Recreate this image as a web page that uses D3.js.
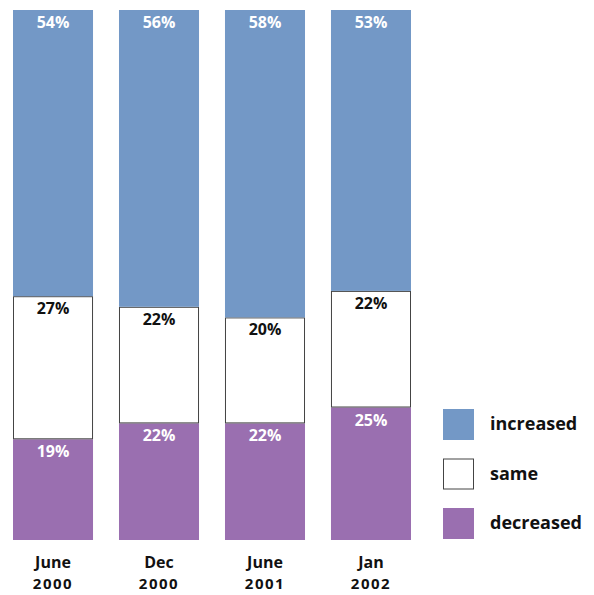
<!DOCTYPE html>
<html>
<head>
<meta charset="utf-8">
<script src="https://d3js.org/d3.v7.min.js"></script>
<style>
  body { margin: 0; background: #fff; }
  text { font-family: "Open Sans", "DejaVu Sans", sans-serif; font-weight: bold; }
</style>
</head>
<body>
<div id="chart"></div>
<script>
const periods = ['June 2000', 'Dec 2000', 'June 2001', 'Jan 2002'];
const decreased = [19, 22, 22, 25];
const same = [27, 22, 20, 22];
const increased = [54, 56, 58, 53];
const seriesNames = ['decreased', 'same', 'increased'];

const width = 594, height = 595;
const plotTop = 10, plotBottom = 540;

const colors = { increased: '#7398c6', same: '#ffffff', decreased: '#9a6fb0' };
const labelColors = { increased: '#ffffff', same: '#111111', decreased: '#ffffff' };

const rows = periods.map((p, i) => ({ period: p, decreased: decreased[i], same: same[i], increased: increased[i] }));
const stack = d3.stack().keys(seriesNames)(rows);

const svg = d3.select('#chart').append('svg')
  .attr('width', width).attr('height', height);

const x = d3.scaleBand().domain(periods).range([13, 411]).paddingInner(0.245).paddingOuter(0);
const y = d3.scaleLinear().domain([0, 100]).range([plotBottom, plotTop]);

const layers = svg.selectAll('g.layer').data(stack).join('g')
  .attr('class', 'layer');

layers.selectAll('rect').data(d => d.map(v => ({ key: d.key, v }))).join('rect')
  .attr('x', d => x(d.v.data.period) + (d.key === 'same' ? 0.5 : 0))
  .attr('y', d => y(d.v[1]) + (d.key === 'same' ? 0.5 : 0))
  .attr('width', d => x.bandwidth() - (d.key === 'same' ? 1 : 0))
  .attr('height', d => y(d.v[0]) - y(d.v[1]) - (d.key === 'same' ? 1 : 0))
  .attr('fill', d => colors[d.key])
  .attr('stroke', d => d.key === 'same' ? '#444' : 'none')
  .attr('stroke-width', 1);

layers.selectAll('text').data(d => d.map(v => ({ key: d.key, v }))).join('text')
  .attr('x', d => x(d.v.data.period) + x.bandwidth() / 2)
  .attr('y', d => y(d.v[1]) + 18)
  .attr('text-anchor', 'middle')
  .attr('font-size', '16px')
  .attr('fill', d => labelColors[d.key])
  .text(d => (d.v[1] - d.v[0]) + '%');

// category labels (two lines)
const xAxis = svg.append('g');
periods.forEach(p => {
  const parts = p.split(' ');
  const cx = x(p) + x.bandwidth() / 2;
  xAxis.append('text')
    .attr('x', cx).attr('y', 568)
    .attr('text-anchor', 'middle')
    .attr('font-size', '16px')
    .attr('fill', '#111')
    .text(parts[0]);
  xAxis.append('text')
    .attr('x', cx).attr('y', 589)
    .attr('text-anchor', 'middle')
    .attr('font-size', '15px')
    .attr('letter-spacing', '1.5px')
    .attr('fill', '#111')
    .text(parts[1]);
});

// legend
const legendNames = ['increased', 'same', 'decreased'];
const legend = svg.append('g').selectAll('g').data(legendNames).join('g')
  .attr('transform', (d, i) => `translate(443, ${409 + i * 49.5})`);
legend.append('rect')
  .attr('x', d => d === 'same' ? 0.5 : 0)
  .attr('y', d => d === 'same' ? 0.5 : 0)
  .attr('width', d => d === 'same' ? 30 : 31)
  .attr('height', d => d === 'same' ? 30 : 31)
  .attr('fill', d => colors[d])
  .attr('stroke', d => d === 'same' ? '#444' : 'none');
legend.append('text')
  .attr('x', 47)
  .attr('y', 21)
  .attr('font-size', '18px')
  .attr('fill', '#111')
  .text(d => d);
</script>
</body>
</html>
